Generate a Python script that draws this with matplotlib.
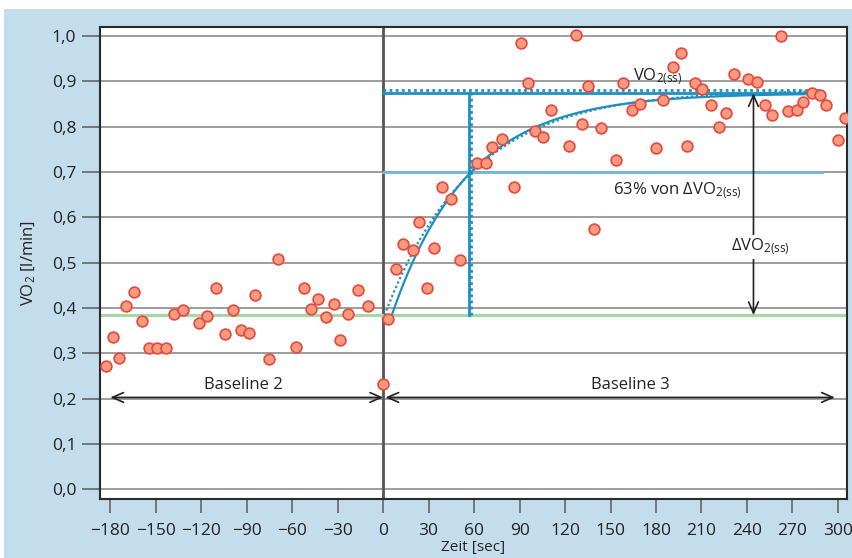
import numpy as np
import matplotlib
matplotlib.use("Agg")
import matplotlib.pyplot as plt
from matplotlib.patches import Rectangle

plt.rcParams['font.family'] = ['Open Sans', 'DejaVu Sans']
plt.rcParams['mathtext.fontset'] = 'custom'
plt.rcParams['mathtext.rm'] = 'Open Sans'
plt.rcParams['mathtext.it'] = 'Open Sans'

# ---- data: measured VO2 points ----
time_s = [-182.8, -178.2, -174.5, -169.6, -164.5, -159.3, -154.6, -149.4, -143.4,
          -138.1, -131.8, -121.4, -115.9, -110.1, -104.4, -99.3, -94.0, -88.5,
          -84.8, -75.5, -69.2, -57.7, -52.4, -47.8, -42.7, -37.7, -32.6, -28.2,
          -22.9, -16.5, -9.9, -0.4,
          3.5, 8.4, 13.4, 19.4, 23.6, 28.9, 33.5, 38.6, 44.5, 50.4, 61.7, 67.6,
          72.0, 78.4, 86.4, 91.0, 95.8, 100.0, 105.7, 110.8, 122.7, 127.3, 131.5,
          135.3, 139.4, 143.6, 153.5, 158.1, 163.9, 169.4, 179.8, 184.6, 191.0,
          196.5, 200.7, 205.7, 210.6, 216.1, 221.4, 226.5, 231.7, 241.0, 246.7,
          251.6, 256.6, 262.3, 267.4, 272.9, 277.3, 282.8, 288.3, 292.1, 300.0,
          304.7]
vo2 = [0.273, 0.336, 0.290, 0.404, 0.436, 0.371, 0.312, 0.312, 0.312,
       0.387, 0.396, 0.368, 0.382, 0.444, 0.342, 0.396, 0.351, 0.346,
       0.429, 0.287, 0.508, 0.314, 0.444, 0.398, 0.420, 0.381, 0.409, 0.329,
       0.386, 0.440, 0.404, 0.232,
       0.376, 0.486, 0.542, 0.529, 0.591, 0.445, 0.532, 0.668, 0.641, 0.506,
       0.720, 0.720, 0.755, 0.773, 0.668, 0.985, 0.896, 0.791, 0.777, 0.836,
       0.757, 1.002, 0.807, 0.889, 0.574, 0.798, 0.727, 0.897, 0.836, 0.851,
       0.754, 0.858, 0.932, 0.963, 0.757, 0.897, 0.883, 0.847, 0.799, 0.831,
       0.916, 0.906, 0.899, 0.848, 0.826, 1.000, 0.835, 0.837, 0.854, 0.874,
       0.870, 0.847, 0.770, 0.820]

# ---- fit parameters ----
baseline = 0.3845
ss_solid = 0.874
ss_dotted = 0.881
delay_solid, tau_solid = 5.7, 50.5
delay_dotted, tau_dotted = 0.9, 57.0
fit_end = 290.0
tc_solid, tc_dotted = 56.4, 58.0
level63_solid, level63_dotted = 0.697, 0.7

xticks = [-180, -150, -120, -90, -60, -30, 0, 30, 60, 90, 120, 150, 180, 210, 240, 270, 300]
yticks = [0.0, 0.1, 0.2, 0.3, 0.4, 0.5, 0.6, 0.7, 0.8, 0.9, 1.0]
ytick_labels = ['0,0', '0,1', '0,2', '0,3', '0,4', '0,5', '0,6', '0,7', '0,8', '0,9', '1,0']
xtick_labels = ['\u2212180', '\u2212150', '\u2212120', '\u221290', '\u221260', '\u221230',
                '0', '30', '60', '90', '120', '150', '180', '210', '240', '270', '300']

blue = '#1f8fc0'
light_blue = '#6cbde0'
txt = '#222222'

fig = plt.figure(figsize=(8.53, 5.58), dpi=100)
fig.patches.append(Rectangle((4/853, 0), 1, 1 - 9/558, transform=fig.transFigure,
                             facecolor='#c3ddec', edgecolor='none', zorder=-10))
ax = fig.add_axes([100/853, 1 - 499/558, 747/853, 472/558])
ax.set_facecolor('white')
ax.set_xlim(-186.8, 306)
ax.set_ylim(-0.021, 1.02)

for y in yticks:
    ax.axhline(y, color='#8c8c8c', lw=1.2, zorder=1)
ax.axvline(0, color='#555555', lw=2, zorder=2)

# baseline
ax.axhline(baseline, color='#a6d8a6', lw=2.2, zorder=2)

# steady state lines
ax.plot([0, fit_end], [ss_solid, ss_solid], color=blue, lw=2, zorder=3)
ax.plot([0, fit_end], [ss_dotted, ss_dotted], color=blue, lw=2, ls=(0, (1, 1.2)), zorder=3)
# 63% lines
ax.plot([0, fit_end], [level63_solid, level63_solid], color=light_blue, lw=1.4, zorder=3)
ax.plot([0, fit_end], [level63_dotted, level63_dotted], color=light_blue, lw=1.4, ls=(0, (1, 1.2)), zorder=3)
# time-constant verticals
ax.plot([tc_solid, tc_solid], [baseline, ss_solid], color=blue, lw=2, zorder=3)
ax.plot([tc_dotted, tc_dotted], [baseline, ss_dotted], color=blue, lw=2, ls=(0, (1, 1.2)), zorder=3)

# fitted curves
t1 = np.linspace(delay_solid, fit_end, 300)
ax.plot(t1, baseline + (ss_solid - baseline) * (1 - np.exp(-(t1 - delay_solid) / tau_solid)),
        color=blue, lw=1.6, zorder=4)
t2 = np.linspace(delay_dotted, fit_end, 300)
ax.plot(t2, baseline + (ss_dotted - baseline) * (1 - np.exp(-(t2 - delay_dotted) / tau_dotted)),
        color=blue, lw=1.6, ls=(0, (1, 1.2)), zorder=4)

# data points
ax.scatter(time_s, vo2, s=60, facecolor='#f79a80', edgecolor='#e8473b', linewidth=1.2, zorder=6)

# arrows
arr = dict(arrowstyle='<->,head_length=0.8,head_width=0.35', color=txt, lw=1.2,
           shrinkA=0, shrinkB=0)
ax.annotate('', xy=(-180, 0.203), xytext=(0, 0.203), arrowprops=arr, zorder=5)
ax.annotate('', xy=(1.5, 0.203), xytext=(298, 0.203), arrowprops=arr, zorder=5)
ax.annotate('', xy=(244.3, baseline), xytext=(244.3, ss_solid), arrowprops=arr, zorder=5)

fs = 12
ax.text(-92.5, 0.213, 'Baseline 2', ha='center', va='bottom', fontsize=fs, color=txt, zorder=7)
ax.text(163, 0.213, 'Baseline 3', ha='center', va='bottom', fontsize=fs, color=txt, zorder=7)
ax.text(165, 0.903, r'VO$_{\mathregular{2(ss)}}$', ha='left', va='baseline', fontsize=fs,
        color=txt, zorder=7)
ax.text(151.8, 0.652, r'63% von $\Delta$VO$_{\mathregular{2(ss)}}$', ha='left', va='baseline',
        fontsize=fs, color=txt, zorder=7)
ax.text(229.8, 0.527, r'$\Delta$VO$_{\mathregular{2(ss)}}$', ha='left', va='baseline', fontsize=fs,
        color=txt, zorder=7,
        bbox=dict(facecolor='white', edgecolor='none', pad=1))

ax.set_xticks(xticks)
ax.set_xticklabels(xtick_labels)
ax.set_yticks(yticks)
ax.set_yticklabels(ytick_labels)
ax.tick_params(axis='y', direction='out', length=13, width=1.2, color='#666666',
               labelsize=12.5, labelcolor=txt, pad=4)
ax.tick_params(axis='x', direction='out', length=10, width=1.2, color='#666666',
               labelsize=12.5, labelcolor=txt, pad=7)
for s in ax.spines.values():
    s.set_color('#2a2a2a')
    s.set_linewidth(1.5)

ax.set_xlabel('Zeit [sec]', fontsize=11, color=txt, labelpad=1)
ax.set_ylabel(r'VO$_2$ [l/min]', fontsize=12, color=txt, labelpad=10)

fig.savefig('out.png', dpi=100)
